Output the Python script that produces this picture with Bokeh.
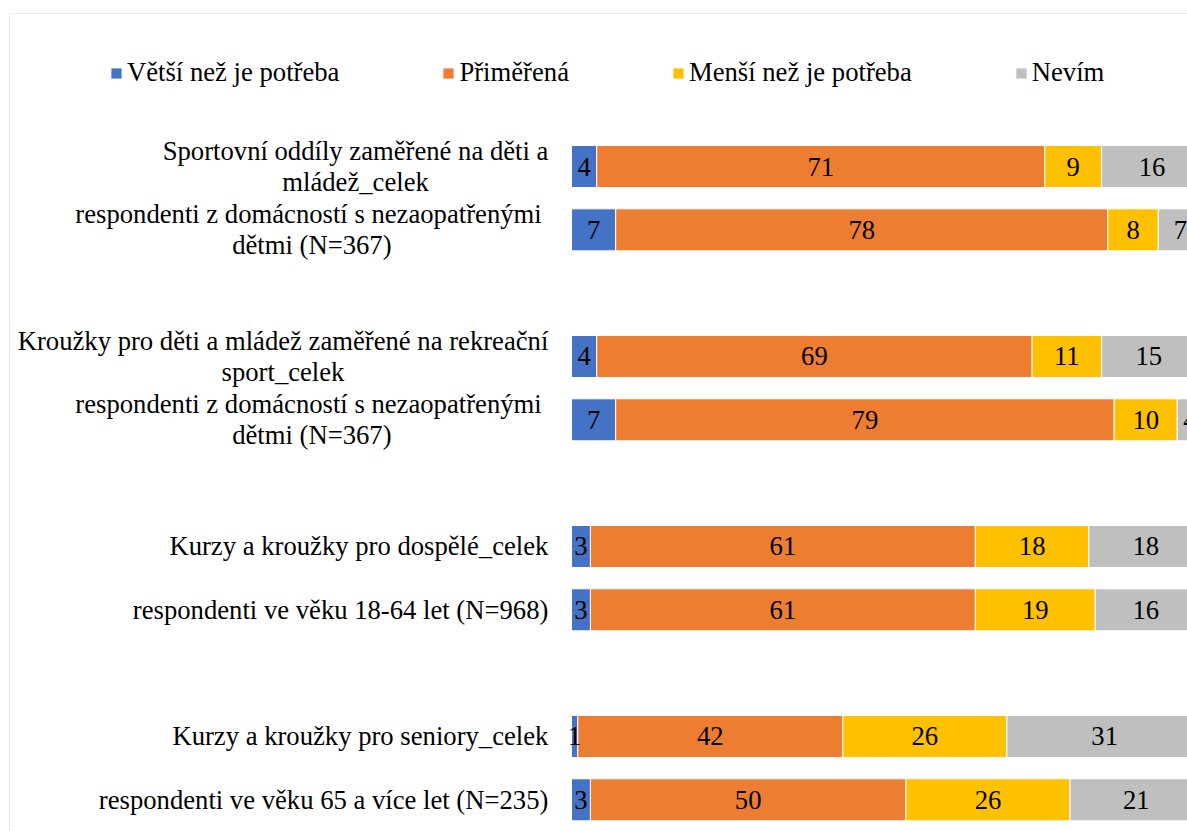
from bokeh.plotting import figure
from bokeh.models import ColumnDataSource, Range1d, Legend, LegendItem, Span
from bokeh.core.properties import value
from bokeh.embed import file_html
from bokeh.resources import INLINE

# ---------------- data ----------------
categories = [
    "Sportovní oddíly zaměřené na děti a\nmládež_celek",
    "respondenti z domácností s nezaopatřenými \ndětmi (N=367)",
    "Kroužky pro děti a mládež zaměřené na rekreační\nsport_celek",
    "respondenti z domácností s nezaopatřenými \ndětmi (N=367)",
    "Kurzy a kroužky pro dospělé_celek",
    "respondenti ve věku 18-64 let (N=968)",
    "Kurzy a kroužky pro seniory_celek",
    "respondenti ve věku 65 a více let (N=235)",
]
series_names = ["Větší než je potřeba", "Přiměřená", "Menší než je potřeba", "Nevím"]
vetsi = [4, 7, 4, 7, 3, 3, 1, 3]
primerena = [71, 78, 69, 79, 61, 61, 42, 50]
mensi = [9, 8, 11, 10, 18, 19, 26, 26]
nevim = [16, 7, 15, 4, 18, 16, 31, 21]
colors = ["#4472C4", "#ED7D31", "#FFC000", "#BFBFBF"]

# ---------------- layout constants ----------------
FONT = "Liberation Serif"
FS = 26.67
PX_PER_UNIT = 6.31
SLOT_PX = 63.33
W, H = 1187, 831
ML, MT = 9, 13                     # chart border offset inside figure
FRAME_W, FRAME_H = W - ML, H - MT
ZERO_PX = 562                      # bar origin from frame left
FIRST_SLOT_PX = 153                # first bar centre from frame top
LABEL_GAP_PX = 23

x_start = -ZERO_PX / PX_PER_UNIT
x_end = (FRAME_W - ZERO_PX) / PX_PER_UNIT
y_top = 1 - FIRST_SLOT_PX / SLOT_PX
y_bottom = y_top + FRAME_H / SLOT_PX

# group slots: pairs of bars with an empty slot between groups
ypos = [(i // 2) * 3 + i % 2 + 1 for i in range(len(categories))]

# Times-compatible advance widths (per 1000 em) for centring wrapped labels
_w = {' ': 250, 'a': 444, 'b': 500, 'c': 444, 'd': 500, 'e': 444, 'f': 333, 'g': 500,
      'h': 500, 'i': 278, 'j': 278, 'k': 500, 'l': 278, 'm': 778, 'n': 500, 'o': 500,
      'p': 500, 'q': 500, 'r': 333, 's': 389, 't': 278, 'u': 500, 'v': 500, 'w': 722,
      'x': 500, 'y': 500, 'z': 444, 'á': 444, 'é': 444, 'ě': 444, 'í': 278, 'ř': 333,
      'š': 389, 'ž': 444, 'ý': 500, 'č': 444, 'ň': 500, 'K': 722, 'N': 722, 'S': 556,
      '(': 333, ')': 333, '=': 564, '_': 500, '-': 333}


def text_px(s):
    return sum(_w.get(ch, 500) for ch in s) * FS / 1000.0


label_x = []
for c in categories:
    wmax = max(text_px(line) for line in c.split("\n"))
    label_x.append(-(LABEL_GAP_PX + wmax / 2.0) / PX_PER_UNIT)

series = [vetsi, primerena, mensi, nevim]
keys = ["s0", "s1", "s2", "s3"]
data = dict(y=ypos, cat=categories, lx=label_x)
for k, s in zip(keys, series):
    data[k] = s
source = ColumnDataSource(data)

p = figure(width=W, height=H, output_backend="svg", toolbar_location=None,
           x_range=Range1d(x_start, x_end), y_range=Range1d(y_bottom, y_top),
           x_axis_type=None, y_axis_type=None,
           min_border_left=ML, min_border_top=MT, min_border_right=0, min_border_bottom=0)
p.outline_line_color = None
p.background_fill_color = "white"
p.border_fill_color = "white"

renderers = p.hbar_stack(keys, y="y", height=42 / SLOT_PX, color=colors,
                         line_color="white", line_width=1, source=source)

# value labels
for i, k in enumerate(keys):
    lefts = [sum(series[j][r] for j in range(i)) for r in range(len(categories))]
    centers = [l + v / 2.0 for l, v in zip(lefts, series[i])]
    src = ColumnDataSource(dict(x=centers, y=ypos, t=[str(v) for v in series[i]]))
    p.text(x="x", y="y", text="t", source=src, text_font=value(FONT),
           text_font_size=f"{FS}px", text_align="center", text_baseline="middle",
           text_color="black")

# category labels
p.text(x="lx", y="y", text="cat", source=source, text_font=value(FONT),
       text_font_size=f"{FS}px", text_align="center", text_baseline="middle",
       text_color="black", text_line_height=1.03)

# chart border (top and left visible)
p.add_layout(Span(location=x_start, dimension="height", line_color="#D9D9D9", line_width=1))
p.add_layout(Span(location=y_top, dimension="width", line_color="#D9D9D9", line_width=1))

legend = Legend(items=[LegendItem(label=n, renderers=[r]) for n, r in zip(series_names, renderers)],
                orientation="horizontal", location=(100, 743),
                glyph_width=14, glyph_height=14, label_standoff=4, spacing=102,
                padding=0, margin=0, border_line_color=None, background_fill_alpha=0,
                label_text_font=FONT, label_text_font_size=f"{FS}px", label_text_color="black")
p.add_layout(legend, "center")

open("out.html", "w").write(file_html(p, INLINE))
